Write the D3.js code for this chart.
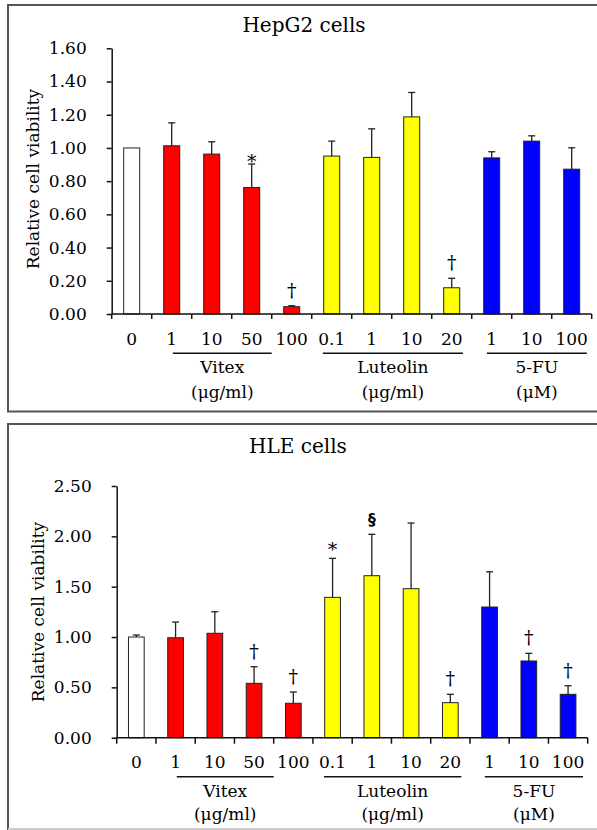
<!DOCTYPE html>
<html>
<head>
<meta charset="utf-8">
<script src="https://cdn.jsdelivr.net/npm/d3@7/dist/d3.min.js"></script>
<style>
  html, body { margin: 0; padding: 0; background: #fff; }
  svg { display: block; }
  text { font-family: "DejaVu Serif", "Liberation Serif", serif; fill: #000; }
</style>
</head>
<body>
<svg id="chart" width="597" height="830"></svg>
<script>
// ---------- DATA ----------
const categoryLabels = ["0", "1", "10", "50", "100", "0.1", "1", "10", "20", "1", "10", "100"];
const categoryGroup  = ["Control", "Vitex", "Vitex", "Vitex", "Vitex", "Luteolin", "Luteolin", "Luteolin", "Luteolin", "5-FU", "5-FU", "5-FU"];

const groupNames  = ["Vitex", "Luteolin", "5-FU"];
const groupUnits  = ["(μg/ml)", "(μg/ml)", "(μM)"];
// underline extents in category units (start, end)
const groupLineStart = [1.53, 5.28, 9.38];
const groupLineEnd   = [4.00, 8.78, 11.88];

const yTicksHepG2 = [0, 0.2, 0.4, 0.6, 0.8, 1.0, 1.2, 1.4, 1.6];
const yTicksHLE   = [0, 0.5, 1.0, 1.5, 2.0, 2.5];

const hepg2Mean  = [1.00, 1.013, 0.963, 0.762, 0.044, 0.951, 0.943, 1.187, 0.158, 0.940, 1.041, 0.872];
const hepg2Error = [0.000, 0.138, 0.074, 0.141, 0.006, 0.090, 0.172, 0.147, 0.057, 0.037, 0.032, 0.129];
const hepg2Marks = ["", "", "", "*", "†", "", "", "", "†", "", "", ""];

const hleMean  = [1.00, 0.993, 1.037, 0.540, 0.342, 1.394, 1.609, 1.480, 0.348, 1.298, 0.762, 0.431];
const hleError = [0.020, 0.156, 0.214, 0.165, 0.112, 0.387, 0.411, 0.652, 0.083, 0.350, 0.076, 0.085];
const hleMarks = ["", "", "", "†", "†", "*", "§", "", "†", "", "†", "†"];

const groupFill = { "Control": "#ffffff", "Vitex": "#ff0000", "Luteolin": "#ffff00", "5-FU": "#0000ff" };

// ---------- DRAW ----------
const svg = d3.select("#chart");

function drawPanel(cfg) {
  const g = svg.append("g");

  // frame (open on the right)
  g.append("path")
    .attr("d", `M597,${cfg.frameTop} H8 V${cfg.frameBottom} H597`)
    .attr("fill", "none")
    .attr("stroke", "#555")
    .attr("stroke-width", 2);
  if (cfg.bottomLineColor) {
    g.append("line").attr("x1", 8).attr("x2", 597)
      .attr("y1", cfg.frameBottom).attr("y2", cfg.frameBottom)
      .attr("stroke", cfg.bottomLineColor).attr("stroke-width", 2);
  }

  const idx = d3.range(categoryLabels.length);
  const x = d3.scaleBand().domain(idx).range([cfg.x0, cfg.x1]).padding(0);
  const bw = x.bandwidth();
  const y = d3.scaleLinear().domain([0, cfg.yMax]).range([cfg.y0, cfg.yTop]);
  const catPos = d3.scaleLinear().domain([0, categoryLabels.length]).range([cfg.x0, cfg.x1]);

  // title
  g.append("text")
    .attr("x", cfg.titleX).attr("y", cfg.titleY)
    .attr("text-anchor", "middle")
    .style("font-size", "20px")
    .text(cfg.title);

  // y axis label
  g.append("text")
    .attr("transform", `translate(${cfg.ylabelX},${cfg.ylabelY}) rotate(-90)`)
    .attr("text-anchor", "middle")
    .attr("dy", "0.35em")
    .style("font-size", "17px")
    .text("Relative cell viability");

  // bars
  const barW = bw * 0.4;
  g.selectAll("rect.bar").data(idx).enter().append("rect")
    .attr("class", "bar")
    .attr("x", i => x(i) + (bw - barW) / 2)
    .attr("width", barW)
    .attr("y", i => y(cfg.mean[i]))
    .attr("height", i => y(0) - y(cfg.mean[i]))
    .attr("fill", i => groupFill[categoryGroup[i]])
    .attr("stroke", "#222")
    .attr("stroke-width", 1);

  // error bars (upper only)
  const eb = g.selectAll("g.err").data(idx.filter(i => cfg.err[i] > 0)).enter().append("g");
  eb.append("line")
    .attr("x1", i => x(i) + bw / 2).attr("x2", i => x(i) + bw / 2)
    .attr("y1", i => y(cfg.mean[i])).attr("y2", i => y(cfg.mean[i] + cfg.err[i]))
    .attr("stroke", "#222").attr("stroke-width", 1.3);
  eb.append("line")
    .attr("x1", i => x(i) + bw / 2 - 3.5).attr("x2", i => x(i) + bw / 2 + 3.5)
    .attr("y1", i => y(cfg.mean[i] + cfg.err[i])).attr("y2", i => y(cfg.mean[i] + cfg.err[i]))
    .attr("stroke", "#222").attr("stroke-width", 1.3);

  // significance marks
  g.selectAll("text.mark").data(idx.filter(i => cfg.marks[i] !== "")).enter().append("text")
    .attr("class", "mark")
    .attr("x", i => x(i) + bw / 2)
    .attr("y", i => {
      const top = y(cfg.mean[i] + cfg.err[i]);
      const m = cfg.marks[i];
      if (m === "*") return top + cfg.starOffset;
      if (m === "§") return top - 9.5;
      return top - 9;
    })
    .attr("text-anchor", "middle")
    .style("font-family", i => cfg.marks[i] === "§" ? "'DejaVu Sans', sans-serif" : "'DejaVu Serif', serif")
    .style("font-weight", i => cfg.marks[i] === "§" ? "bold" : "normal")
    .style("font-size", i => cfg.marks[i] === "§" ? "15.5px" : (cfg.marks[i] === "*" ? "19px" : "19px"))
    .text(i => cfg.marks[i]);

  // y axis
  const yAxis = d3.axisLeft(y)
    .tickValues(cfg.yTicks)
    .tickFormat(d3.format(".2f"))
    .tickSize(5)
    .tickSizeOuter(0)
    .tickPadding(cfg.tickPad);
  const ya = g.append("g").attr("transform", `translate(${cfg.x0},0)`).call(yAxis);
  ya.select(".domain").attr("stroke", "#111").attr("stroke-width", 1.5);
  ya.selectAll(".tick line").attr("stroke", "#111").attr("stroke-width", 1.5);
  ya.selectAll(".tick text").style("font-size", "17px").style("font-family", "'DejaVu Serif', serif").attr("fill", "#000");

  // x axis: baseline with ticks at category boundaries
  g.append("line")
    .attr("x1", cfg.x0).attr("x2", cfg.x1)
    .attr("y1", y(0)).attr("y2", y(0))
    .attr("stroke", "#111").attr("stroke-width", 1.5);
  g.selectAll("line.xt").data(d3.range(categoryLabels.length + 1)).enter().append("line")
    .attr("x1", k => catPos(k)).attr("x2", k => catPos(k))
    .attr("y1", y(0)).attr("y2", y(0) + cfg.xTickLen)
    .attr("stroke", "#111").attr("stroke-width", 1.5);

  // category labels
  g.selectAll("text.cat").data(idx).enter().append("text")
    .attr("x", i => x(i) + bw / 2)
    .attr("y", cfg.catY)
    .attr("text-anchor", "middle")
    .style("font-size", "17px")
    .text(i => categoryLabels[i]);

  // group underlines and labels
  groupNames.forEach((name, k) => {
    const xa = catPos(groupLineStart[k]);
    const xb = catPos(groupLineEnd[k]);
    g.append("line")
      .attr("x1", xa).attr("x2", xb)
      .attr("y1", cfg.groupLineY).attr("y2", cfg.groupLineY)
      .attr("stroke", "#111").attr("stroke-width", 1.5);
    g.append("text")
      .attr("x", (xa + xb) / 2).attr("y", cfg.groupLabelY1)
      .attr("text-anchor", "middle")
      .style("font-size", "17px")
      .text(name);
    g.append("text")
      .attr("x", (xa + xb) / 2).attr("y", cfg.groupLabelY2)
      .attr("text-anchor", "middle")
      .style("font-size", "17px")
      .text(groupUnits[k]);
  });
}

drawPanel({
  title: "HepG2 cells", titleX: 304, titleY: 32,
  frameTop: 5, frameBottom: 411.5,
  x0: 111.7, x1: 591.7, y0: 314, yTop: 48.3, yMax: 1.6, yTicks: yTicksHepG2,
  tickPad: 20, xTickLen: 5,
  ylabelX: 33.5, ylabelY: 179,
  mean: hepg2Mean, err: hepg2Error, marks: hepg2Marks, starOffset: 4,
  catY: 345, groupLineY: 353.3, groupLabelY1: 373, groupLabelY2: 398
});

drawPanel({
  title: "HLE cells", titleX: 298, titleY: 453,
  frameTop: 424, frameBottom: 829, bottomLineColor: "#ccc",
  x0: 116.7, x1: 587.7, y0: 737.7, yTop: 486, yMax: 2.5, yTicks: yTicksHLE,
  tickPad: 20, xTickLen: 6,
  ylabelX: 38, ylabelY: 612,
  mean: hleMean, err: hleError, marks: hleMarks, starOffset: -2,
  catY: 768, groupLineY: 776.7, groupLabelY1: 796.7, groupLabelY2: 820
});
</script>
</body>
</html>
